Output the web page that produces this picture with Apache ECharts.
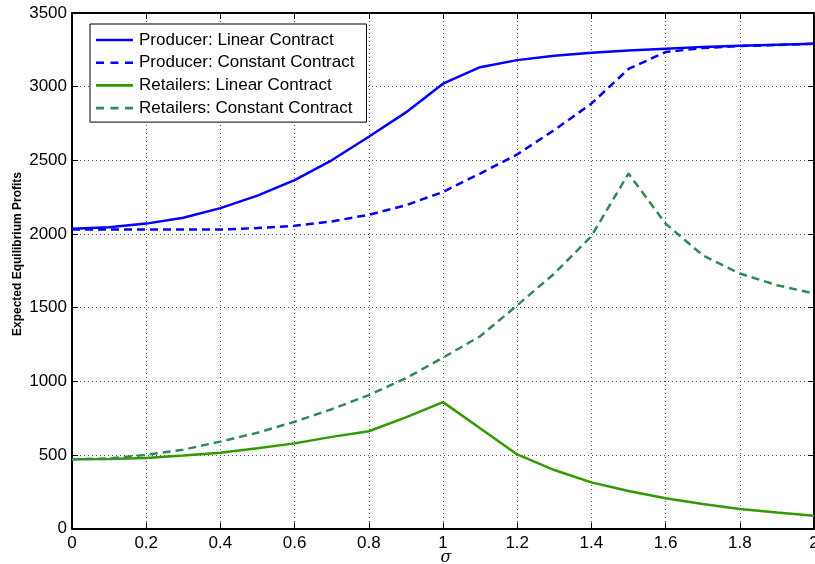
<!DOCTYPE html>
<html><head><meta charset="utf-8">
<script src="https://cdn.jsdelivr.net/npm/echarts@6/dist/echarts.min.js"></script>
<style>html,body{margin:0;padding:0;background:#fff}#c{width:815px;height:564px}</style>
</head><body><div id="c"></div>
<script>
const sigma = [0,0.1,0.2,0.3,0.4,0.5,0.6,0.7,0.8,0.9,1.0,1.1,1.2,1.3,1.4,1.5,1.6,1.7,1.8,1.9,2.0];
const producerLinear   = [2035,2045,2070,2110,2175,2260,2365,2500,2660,2825,3020,3132,3180,3210,3230,3245,3258,3270,3278,3285,3291];
const producerConstant = [2030,2030,2030,2030,2030,2040,2055,2085,2130,2195,2285,2410,2540,2705,2885,3120,3235,3262,3275,3283,3292];
const retailLinear     = [470,472,478,495,515,545,578,622,660,754,858,680,503,397,313,254,205,166,132,108,87];
const retailConstant   = [470,475,500,535,590,650,725,810,906,1020,1160,1305,1515,1731,1985,2410,2070,1855,1731,1652,1596];
const seriesNames = ['Producer: Linear Contract','Producer: Constant Contract','Retailers: Linear Contract','Retailers: Constant Contract'];
const xAxisName = 'σ';
const yAxisName = 'Expected Equilibrium Profits';

const pair = arr => sigma.map((x,i)=>[x,arr[i]]);
const font = 'Liberation Sans, Arial, sans-serif';
const solidIcon = 'path://M0,0H37V2.6H0Z';
const dashIcon = 'path://M0,0H8V2.6H0Z M14.5,0H22.5V2.6H14.5Z M29,0H37V2.6H29Z';
const chart = echarts.init(document.getElementById('c'), null, {renderer:'canvas'});
const mk = (name, data, color, type) => ({
  name, type:'line', data:pair(data), symbol:'none', smooth:false,
  lineStyle:{color, width:2.5, type}, itemStyle:{color}, xAxisIndex:0, yAxisIndex:0, z:3
});
chart.setOption({
  animation:false,
  grid:{left:72, right:1, top:13, bottom:35.5, show:false, containLabel:false, outerBoundsMode:'none'},
  graphic:[
    {type:'text', x:446, y:558, style:{text:xAxisName, fontFamily:'DejaVu Serif, serif', fontStyle:'italic', fontSize:16, fill:'#000', textAlign:'center', textVerticalAlign:'middle'}},
    {type:'text', x:18, y:254, rotation:Math.PI/2, style:{text:yAxisName, fontFamily:font, fontWeight:'bold', fontSize:12, fill:'#000', textAlign:'center', textVerticalAlign:'middle'}}
  ],
  legend:{
    left:90, top:24, orient:'vertical',
    data:[
      {name:seriesNames[0], icon:solidIcon},
      {name:seriesNames[1], icon:dashIcon},
      {name:seriesNames[2], icon:solidIcon},
      {name:seriesNames[3], icon:dashIcon}
    ],
    itemWidth:37, itemHeight:2.6, itemGap:5.7,
    padding:[7.5,12,5.5,6], borderColor:'#000', borderWidth:1, backgroundColor:'#fff',
    textStyle:{fontFamily:font, fontSize:17, lineHeight:17, color:'#000', padding:[0,0,0,1]},
    selectedMode:false
  },
  xAxis:[{
    type:'value', min:0, max:2, interval:0.2,
    axisLine:{show:true, onZero:false, lineStyle:{color:'#000', width:2}},
    axisTick:{show:true, inside:true, length:6, lineStyle:{color:'#000', width:1}},
    axisLabel:{fontFamily:font, fontSize:17, color:'#000', margin:6, formatter:v=>String(+v.toFixed(1))},
    splitLine:{show:true, lineStyle:{color:'#555', width:1, type:[1,3]}}
  },{
    type:'value', min:0, max:2, interval:0.2, position:'top',
    axisLine:{show:true, onZero:false, lineStyle:{color:'#000', width:2}},
    axisTick:{show:true, inside:true, length:6, lineStyle:{color:'#000'}},
    axisLabel:{show:false}, splitLine:{show:false}
  }],
  yAxis:[{
    type:'value', min:0, max:3500, interval:500,
    axisLine:{show:true, onZero:false, lineStyle:{color:'#000', width:2}},
    axisTick:{show:true, inside:true, length:6, lineStyle:{color:'#000'}},
    axisLabel:{fontFamily:font, fontSize:17, color:'#000', margin:5, formatter:v=>String(v)},
    splitLine:{show:true, lineStyle:{color:'#555', width:1, type:[1,3]}}
  },{
    type:'value', min:0, max:3500, interval:500, position:'right',
    axisLine:{show:true, onZero:false, lineStyle:{color:'#000', width:2}},
    axisTick:{show:true, inside:true, length:6, lineStyle:{color:'#000'}},
    axisLabel:{show:false}, splitLine:{show:false}
  }],
  series:[
    mk(seriesNames[0], producerLinear, '#0000ff', 'solid'),
    mk(seriesNames[1], producerConstant, '#0000ff', [8,5]),
    mk(seriesNames[2], retailLinear, '#339900', 'solid'),
    mk(seriesNames[3], retailConstant, '#2e8b57', [8,5])
  ]
});
</script></body></html>
